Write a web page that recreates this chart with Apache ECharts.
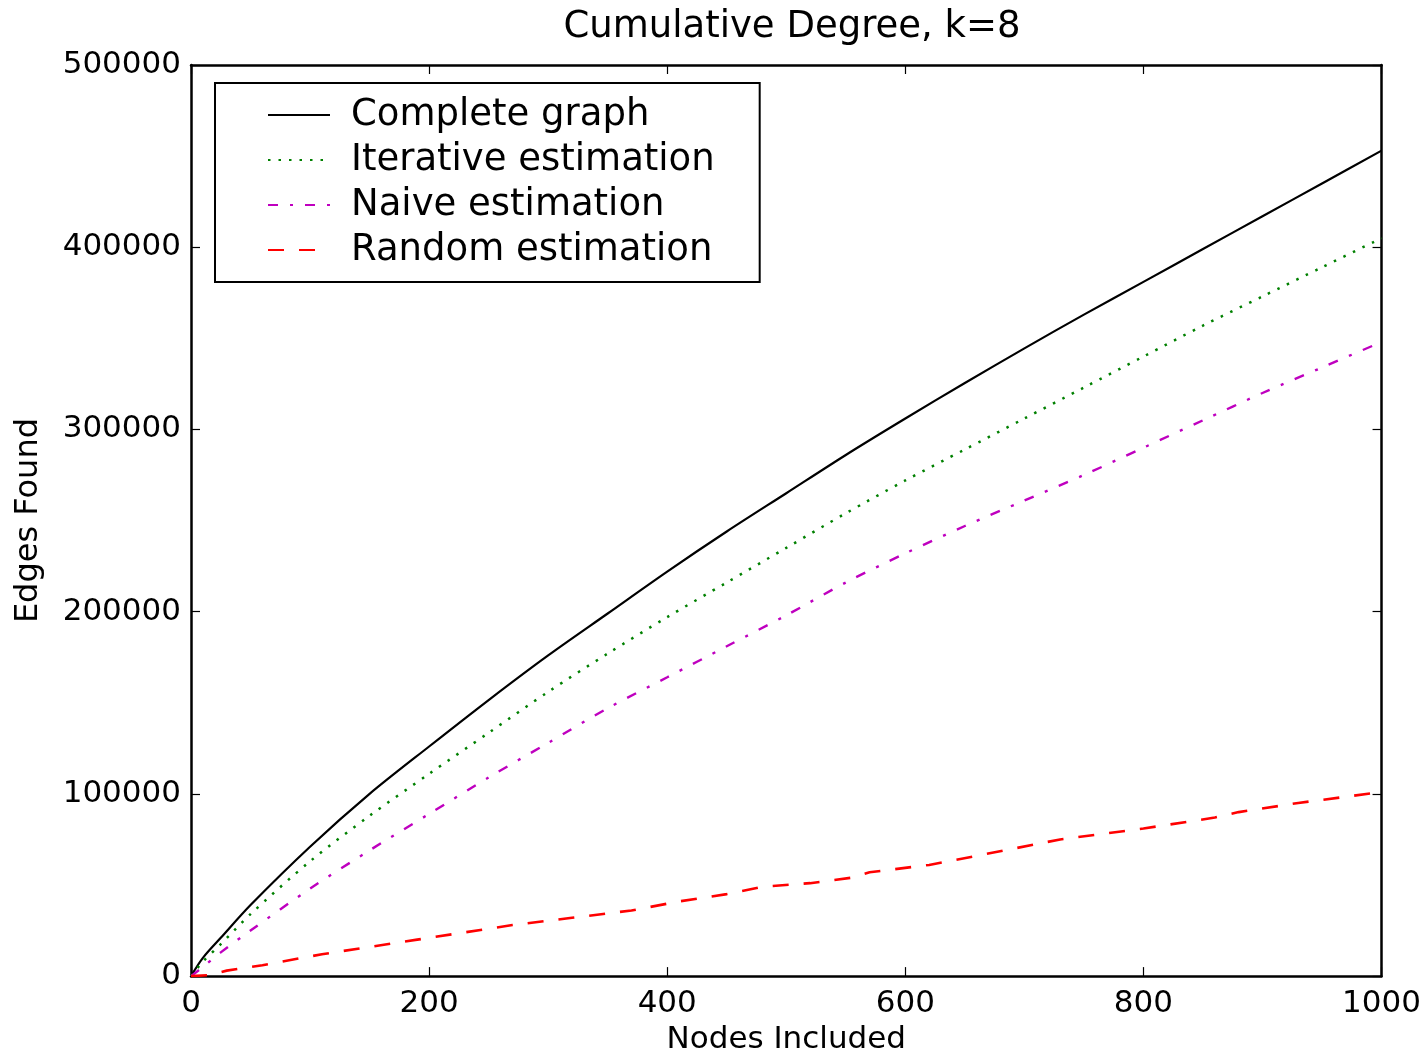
<!DOCTYPE html>
<html>
<head>
<meta charset="utf-8">
<script src="https://cdn.jsdelivr.net/npm/echarts@6/dist/echarts.min.js"></script>
<style>
html, body { margin: 0; padding: 0; background: #fff; }
#main { width: 1424px; height: 1060px; }
</style>
</head>
<body>
<div id="main"></div>
<script>
// values
var nodes = [0, 10, 25, 50, 100, 150, 200, 250, 300, 350, 400, 450, 500, 550, 600, 650, 700, 750, 800, 850, 900, 950, 1000];
var complete = [0, 10000, 21000, 39000, 71000, 100000, 126000, 151500, 176000, 199000, 222000, 244000, 265000, 286000, 306000, 325500, 344500, 363000, 381000, 399000, 417000, 435000, 453000];
var iterative = [0, 8000, 17500, 34000, 63000, 88000, 111000, 133500, 156000, 177000, 197000, 216000, 235000, 254000, 272000, 289000, 306000, 323000, 340000, 357000, 373000, 389000, 405000];
var naive = [0, 5000, 13000, 25000, 48000, 69000, 89000, 109000, 128000, 147000, 164000, 181000, 198000, 216000, 232000, 247000, 261000, 275000, 290000, 305000, 320000, 334000, 348000];
var randomNodes = [0, 15, 30, 60, 110, 190, 270, 320, 370, 410, 450, 480, 520, 555, 570, 620, 660, 730, 800, 860, 880, 930, 1000];
var randomEdges = [0, 500, 3000, 6000, 12000, 20000, 28000, 32000, 36000, 41000, 45000, 49000, 51000, 54000, 57000, 61000, 66000, 75000, 81000, 87000, 90000, 95000, 101000];
var seriesNames = ['Complete graph', 'Iterative estimation', 'Naive estimation', 'Random estimation'];

function pairs(xs, ys) {
    return xs.map(function (x, i) { return [x, ys[i]]; });
}

var font = 'DejaVu Sans';
var myChart = echarts.init(document.getElementById('main'));

var axisLine = { show: true, onZero: false, lineStyle: { color: '#000', width: 2.5 } };
var axisTick = { show: true, inside: true, length: 9, lineStyle: { color: '#000', width: 1.2 } };
var plain = function (v) { return String(v); };

var option = {
    animation: false,
    backgroundColor: '#fff',
    textStyle: { fontFamily: font },
    title: {
        text: 'Cumulative Degree, k=8',
        left: 787,
        top: 4,
        textAlign: 'center',
        textStyle: { fontFamily: font, fontSize: 37, fontWeight: 'normal', color: '#000' }
    },
    grid: { left: 191, right: 41, top: 65, bottom: 71, containLabel: false },
    legend: {
        orient: 'vertical',
        left: 215,
        top: 83,
        itemWidth: 62,
        itemHeight: 14,
        itemGap: 7,
        padding: [13, 45, 13, 52],
        borderColor: '#000',
        borderWidth: 2,
        backgroundColor: '#fff',
        selectedMode: false,
        itemStyle: { opacity: 0 },
        textStyle: { fontFamily: font, fontSize: 37, color: '#000', lineHeight: 38, padding: [0, 0, 0, 16] },
        data: seriesNames
    },
    xAxis: [{
        type: 'value', position: 'bottom',
        min: 0, max: 1000, interval: 200,
        axisLine: axisLine, axisTick: axisTick,
        splitLine: { show: false },
        axisLabel: { color: '#000', fontSize: 31, fontFamily: font, margin: 12, formatter: plain },
        name: 'Nodes Included', nameLocation: 'middle', nameGap: 44,
        nameTextStyle: { color: '#000', fontSize: 31, fontFamily: font }
    }, {
        type: 'value', position: 'top',
        min: 0, max: 1000, interval: 200,
        axisLine: axisLine, axisTick: axisTick,
        splitLine: { show: false }, axisLabel: { show: false }
    }],
    yAxis: [{
        type: 'value', position: 'left',
        min: 0, max: 500000, interval: 100000,
        axisLine: axisLine, axisTick: axisTick,
        splitLine: { show: false },
        axisLabel: { color: '#000', fontSize: 31, fontFamily: font, margin: 10, formatter: plain },
        name: 'Edges Found', nameLocation: 'middle', nameGap: 146,
        nameTextStyle: { color: '#000', fontSize: 32, fontFamily: font }
    }, {
        type: 'value', position: 'right',
        min: 0, max: 500000, interval: 100000,
        axisLine: axisLine, axisTick: axisTick,
        splitLine: { show: false }, axisLabel: { show: false }
    }],
    series: [{
        name: seriesNames[0],
        type: 'line',
        symbol: 'none',
        smooth: 0.3,
        data: pairs(nodes, complete),
        lineStyle: { color: '#000', width: 2.2 },
        itemStyle: { color: '#000' }
    }, {
        name: seriesNames[1],
        type: 'line',
        symbol: 'none',
        smooth: 0.3,
        data: pairs(nodes, iterative),
        lineStyle: { color: '#008000', width: 2.5, type: [2.5, 8] },
        itemStyle: { color: '#008000' }
    }, {
        name: seriesNames[2],
        type: 'line',
        symbol: 'none',
        smooth: 0.3,
        data: pairs(nodes, naive),
        lineStyle: { color: '#bf00bf', width: 2.4, type: [10, 12, 3, 12] },
        itemStyle: { color: '#bf00bf' }
    }, {
        name: seriesNames[3],
        type: 'line',
        symbol: 'none',
        data: pairs(randomNodes, randomEdges),
        lineStyle: { color: '#ff0000', width: 2.6, type: [16, 15] },
        itemStyle: { color: '#ff0000' }
    }]
};

myChart.setOption(option);
window.addEventListener("resize", function () {
    myChart.resize();
});
</script>
</body>
</html>
